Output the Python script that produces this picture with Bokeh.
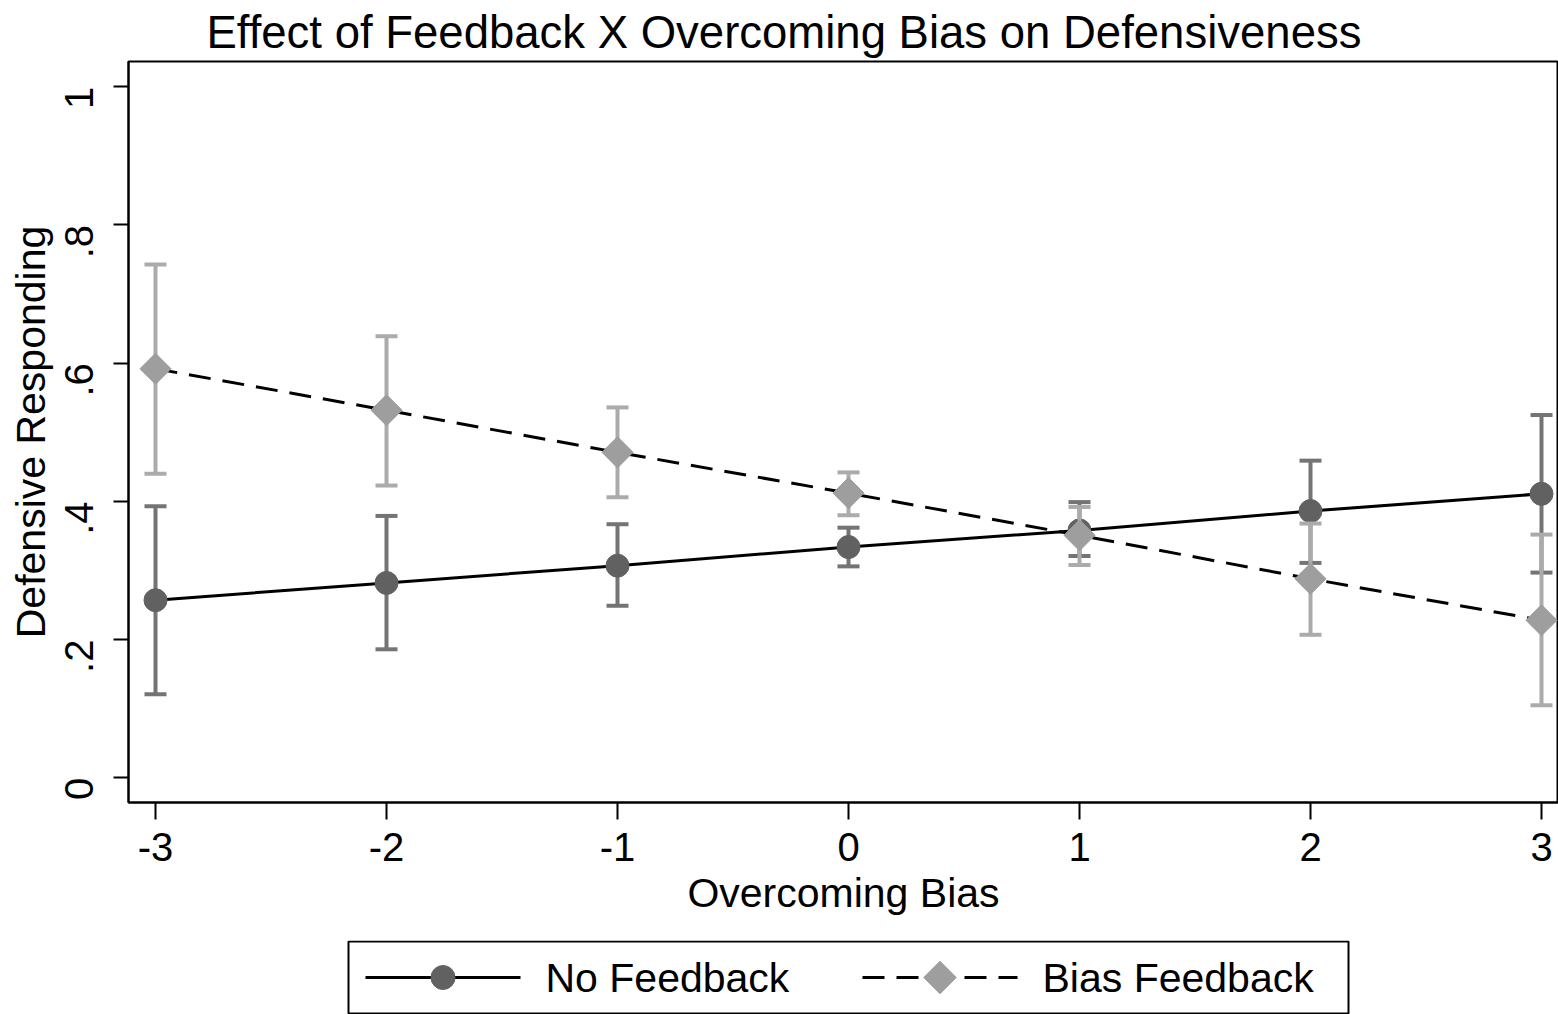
from bokeh.plotting import figure
from bokeh.models import Range1d, ColumnDataSource, FixedTicker
from bokeh.layouts import column
from bokeh.embed import file_html
from bokeh.resources import INLINE
from bokeh.core.properties import value
import math

# ---- data ----
x_vals = [-3, -2, -1, 0, 1, 2, 3]
x_tick_labels = ["-3", "-2", "-1", "0", "1", "2", "3"]
y_ticks = [0, 0.2, 0.4, 0.6, 0.8, 1.0]
y_tick_labels = ["0", ".2", ".4", ".6", ".8", "1"]

no_fb = [0.257, 0.282, 0.307, 0.334, 0.358, 0.386, 0.411]
no_fb_lo = [0.121, 0.186, 0.249, 0.306, 0.321, 0.311, 0.297]
no_fb_hi = [0.393, 0.379, 0.367, 0.362, 0.399, 0.459, 0.525]

bias_fb = [0.592, 0.532, 0.471, 0.412, 0.351, 0.288, 0.228]
bias_fb_lo = [0.440, 0.423, 0.406, 0.380, 0.308, 0.207, 0.105]
bias_fb_hi = [0.743, 0.639, 0.536, 0.442, 0.392, 0.368, 0.352]

series_labels = ["No Feedback", "Bias Feedback"]

FONT = "Liberation Sans"
NF_BAR = "#747474"
NF_MARK = "#616161"
B_BAR = "#ababab"
B_MARK = "#9e9e9e"
DASH = "22 12"

W = 1558
MAIN_H = 940
LEG_H = 74
LEFT = 128

nf_src = ColumnDataSource(dict(x=x_vals, y=no_fb, lo=no_fb_lo, hi=no_fb_hi))
b_src = ColumnDataSource(dict(x=x_vals, y=bias_fb, lo=bias_fb_lo, hi=bias_fb_hi))

p = figure(width=W, height=MAIN_H,
           x_range=Range1d(-3.1169, 3.0736), y_range=Range1d(-0.0357, 1.0366),
           output_backend="svg", toolbar_location=None,
           min_border_left=LEFT, min_border_right=0, min_border_top=61,
           min_border_bottom=138)

p.xgrid.visible = False
p.ygrid.visible = False
p.outline_line_color = "black"
p.outline_line_width = 2
p.background_fill_color = "white"
p.border_fill_color = "white"

# title
p.title.text = "Effect of Feedback X Overcoming Bias on Defensiveness"
p.title.text_font = FONT
p.title.text_font_size = "45.5px"
p.title.text_font_style = "normal"
p.title.text_color = "black"
p.title.align = "left"
p.title.vertical_align = "top"
p.title.offset = 78
p.title.standoff = 3

# axes
for ax in (p.xaxis[0], p.yaxis[0]):
    ax.axis_line_width = 2
    ax.axis_line_color = "black"
    ax.major_tick_line_width = 2
    ax.major_tick_line_color = "black"
    ax.major_tick_in = 0
    ax.minor_tick_line_color = None
    ax.major_label_text_font = FONT
    ax.major_label_text_font_size = "40px"
    ax.major_label_text_color = "black"
    ax.axis_label_text_font = FONT
    ax.axis_label_text_font_size = "41px"
    ax.axis_label_text_font_style = "normal"
    ax.axis_label_text_color = "black"

p.xaxis.ticker = FixedTicker(ticks=x_vals)
p.xaxis.major_label_overrides = {v: s for v, s in zip(x_vals, x_tick_labels)}
p.xaxis.axis_label = "Overcoming Bias"
p.xaxis.major_tick_out = 17
p.xaxis.major_label_standoff = 13
p.xaxis.axis_label_standoff = 6

p.yaxis.ticker = FixedTicker(ticks=y_ticks)
p.yaxis.major_label_overrides = {v: s for v, s in zip(y_ticks, y_tick_labels)}
p.yaxis.major_label_orientation = math.pi / 2
p.yaxis.axis_label = "Defensive Responding"
p.yaxis.major_tick_out = 15
p.yaxis.major_label_standoff = 34
p.yaxis.axis_label_standoff = -5

# No Feedback series
p.segment(x0="x", y0="lo", x1="x", y1="hi", source=nf_src, line_color=NF_BAR, line_width=4)
p.scatter(x="x", y="lo", source=nf_src, marker="dash", size=22, line_color=NF_BAR, line_width=4)
p.scatter(x="x", y="hi", source=nf_src, marker="dash", size=22, line_color=NF_BAR, line_width=4)
p.line(x="x", y="y", source=nf_src, line_color="black", line_width=3)
p.scatter(x="x", y="y", source=nf_src, marker="circle", size=23,
          fill_color=NF_MARK, line_color=NF_MARK, line_width=1)

# Bias Feedback series
p.segment(x0="x", y0="lo", x1="x", y1="hi", source=b_src, line_color=B_BAR, line_width=4)
p.scatter(x="x", y="lo", source=b_src, marker="dash", size=22, line_color=B_BAR, line_width=4)
p.scatter(x="x", y="hi", source=b_src, marker="dash", size=22, line_color=B_BAR, line_width=4)
p.line(x="x", y="y", source=b_src, line_color="black", line_width=3, line_dash=DASH)
p.scatter(x="x", y="y", source=b_src, marker="square", size=22, angle=math.pi / 4,
          fill_color=B_MARK, line_color=B_MARK, line_width=1)

# ---- legend (drawn as its own strip below the plot; frame aligned with main frame) ----
leg = figure(width=W, height=LEG_H, x_range=Range1d(LEFT, W), y_range=Range1d(0, LEG_H),
             output_backend="svg", toolbar_location=None,
             min_border_left=LEFT, min_border_right=0, min_border_top=0, min_border_bottom=0,
             x_axis_type=None, y_axis_type=None)
leg.outline_line_color = None
leg.background_fill_color = "white"
leg.border_fill_color = "white"

box_left, box_right, box_top, box_bottom = 348, 1348, LEG_H - 1, 1
mid = LEG_H - 37
leg.quad(left=[box_left], right=[box_right], top=[box_top], bottom=[box_bottom],
         fill_color=None, line_color="black", line_width=2)

item_x = [365, 862]          # start of each key sample
key_w = 155
label_gap = 25
leg.segment(x0=[item_x[0]], y0=[mid], x1=[item_x[0] + key_w], y1=[mid],
            line_color="black", line_width=3)
leg.scatter(x=[item_x[0] + key_w / 2], y=[mid], marker="circle", size=24,
            fill_color=NF_MARK, line_color=NF_MARK)
leg.segment(x0=[item_x[1]], y0=[mid], x1=[item_x[1] + key_w], y1=[mid],
            line_color="black", line_width=3, line_dash=DASH)
leg.scatter(x=[item_x[1] + key_w / 2], y=[mid], marker="square", size=23, angle=math.pi / 4,
            fill_color=B_MARK, line_color=B_MARK)
leg.text(x=[xx + key_w + label_gap for xx in item_x], y=[mid, mid], text=series_labels,
         text_font=value(FONT), text_font_size="41px", text_color="black",
         text_baseline="middle", text_align="left")

layout = column(p, leg, spacing=0)
open("out.html", "w").write(file_html(layout, INLINE))
